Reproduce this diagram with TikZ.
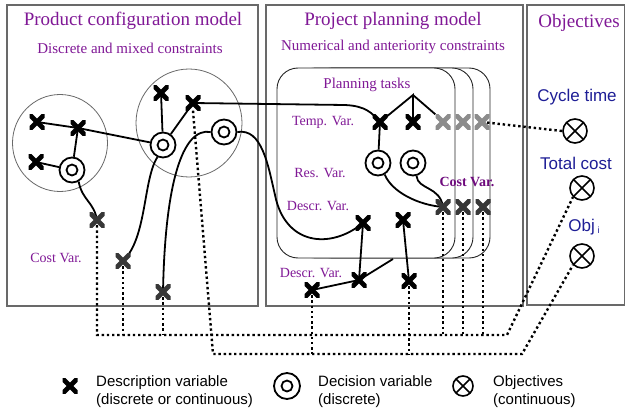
\documentclass[tikz,border=0pt]{standalone}
\usepackage{fontspec}
\setmainfont{Liberation Serif}
\newfontfamily\legfont{Liberation Sans}
\definecolor{vio}{RGB}{128,24,150}
\definecolor{vioD}{RGB}{110,10,125}
\definecolor{objblue}{RGB}{30,30,150}
\definecolor{framegray}{RGB}{105,105,105}
\definecolor{lgray}{RGB}{140,140,140}
\definecolor{dgray}{RGB}{55,55,55}
\pgfdeclarelayer{bg}
\pgfdeclarelayer{mid}
\pgfsetlayers{bg,mid,main}
\begin{document}
\begin{tikzpicture}[x=1pt,y=-1pt,
  xm/.style={minimum size=15pt, inner sep=0pt,
    path picture={\draw[line width=4.8pt, line cap=rect, #1]
      (path picture bounding box.south west) -- (path picture bounding box.north east)
      (path picture bounding box.north west) -- (path picture bounding box.south east);}},
  xm/.default=black,
  dec/.style={circle, draw, line width=1.8pt, fill=white, minimum size=25pt, inner sep=0pt,
    path picture={\draw[line width=1.8pt] (path picture bounding box.center) circle (5.5pt);}},
  obj/.style={circle, draw, line width=1.6pt, fill=white, minimum size=#1, inner sep=0pt,
    path picture={\draw[line width=1.6pt]
      (path picture bounding box.north west) -- (path picture bounding box.south east)
      (path picture bounding box.north east) -- (path picture bounding box.south west);}},
  obj/.default=24pt,
  conn/.style={line width=1.8pt, black},
  dots/.style={line width=2.4pt, dash pattern=on 2.4pt off 2.8pt, black},
  panel/.style={draw=framegray, line width=1.3pt},
  grp/.style={draw=framegray, line width=0.8pt},
  task/.style={draw=black!85, line width=0.9pt, fill=white, rounded corners=21pt},
  ttl/.style={text=vio, font=\fontsize{19}{22}\selectfont, inner sep=0pt},
  sub/.style={text=vio, font=\fontsize{15}{18}\selectfont, inner sep=0pt},
  vlab/.style={text=vio, font=\fontsize{14}{17}\selectfont, inner sep=0pt},
  olab/.style={text=objblue, font=\legfont\fontsize{17}{20}\selectfont, inner sep=0pt},
  leg/.style={font=\legfont\fontsize{15}{18}\selectfont, align=left, anchor=west, inner sep=0pt}
]
\useasboundingbox (0,0) rectangle (626,412);

% panels, groups and task cards
\begin{pgfonlayer}{bg}
  \fill[white] (0,0) rectangle (626,412);
  \draw[panel] (7,5) rectangle (258,306);
  \draw[panel] (266,5) rectangle (523,306);
  \draw[panel] (527,5) rectangle (624.5,305);
  \draw[grp] (60,143) ellipse [x radius=47.5pt, y radius=48.5pt];
  \draw[grp] (189,123) ellipse [x radius=53pt, y radius=54pt];
  \draw[task] (312,68) rectangle (490,258);
  \draw[task] (295,68) rectangle (473,258);
  \draw[task] (277,68) rectangle (455,258);
\end{pgfonlayer}

% titles
\node[ttl] (ttlA) at (133,21) {Product configuration model};
\node[sub] (subA) at (130,48) {Discrete and mixed constraints};
\node[ttl] (ttlB) at (393,21) {Project planning model};
\node[sub] (subB) at (393,47) {Numerical and anteriority constraints};
\node[ttl] (ttlC) at (579,23) {Objectives};

% product configuration variables
\node[xm] (a1) at (37,122) {};
\node[xm] (a2) at (78,128) {};
\node[xm] (a3) at (36,162) {};
\node[dec] (d1) at (72,170) {};
\node[xm] (b1) at (161,93) {};
\node[xm] (b2) at (193,103) {};
\node[dec] (e1) at (163,145) {};
\node[dec] (e2) at (224,132) {};
\node[xm=dgray] (c1) at (97,220) {};
\node[xm=dgray] (c2) at (123,261) {};
\node[xm=dgray] (c3) at (163,292) {};
\node[vlab] (lcost) at (56,258) {Cost Var.};

% project planning variables
\node[vlab, font=\fontsize{15}{18}\selectfont] (lplan) at (367,85) {Planning tasks};
\node[vlab] (ltemp) at (323,122) {Temp. Var.};
\node[vlab] (lres) at (320,173) {Res. Var.};
\node[vlab] (ldesA) at (318,206) {Descr. Var.};
\node[vlab] (ldesB) at (311,273) {Descr. Var.};
\node[vlab, text=vioD, font=\bfseries\fontsize{14}{17}\selectfont] (lcostB) at (467,182) {Cost Var.};
\coordinate (apex) at (413,95);
\coordinate (pe) at (393,259);
\node[xm] (t1) at (380,122) {};
\node[xm] (t2) at (413,122) {};
\node[xm=lgray] (g1) at (443,122) {};
\node[xm=lgray] (g2) at (463,122) {};
\node[xm=lgray] (g3) at (482,122) {};
\node[dec] (r1) at (378,163) {};
\node[dec] (r2) at (413,163) {};
\node[xm=dgray] (k1) at (443,207) {};
\node[xm=dgray] (k2) at (463,207) {};
\node[xm=dgray] (k3) at (483,207) {};
\node[xm] (p1) at (363,223) {};
\node[xm] (p2) at (359,280) {};
\node[xm] (p3) at (312,290) {};
\node[xm] (q1) at (403,220) {};
\node[xm] (q2) at (409,281) {};

% objectives
\node[olab] (lct) at (577,97) {Cycle time};
\node[olab] (ltc) at (576,163) {Total cost};
\node[olab] (loi) at (584,227) {Obj\,{\fontsize{9}{9}\selectfont\raisebox{-2pt}{i}}};
\node[obj] (ct) at (575,131) {};
\node[obj] (tc) at (582,188) {};
\node[obj] (oi) at (582,256) {};

% legend
\node[xm] (kx) at (70,386) {};
\node[leg] (tx) at (96,392) {Description variable\\(discrete or continuous)};
\node[dec, fill=none, minimum size=26pt] (kd) at (287,386) {};
\node[leg] (td) at (318,392) {Decision variable\\(discrete)};
\node[obj=20pt] (ko) at (463,386) {};
\node[leg] (to) at (493,392) {Objectives\\(continuous)};

% constraints and links
\begin{pgfonlayer}{mid}
  \draw[conn] (a1.center) -- (a2.center) -- (e1);
  \draw[conn] (a2.center) -- (d1);
  \draw[conn] (a3.center) -- (d1);
  \draw[conn] (d1.-60) .. controls (82,200) and (94,202) .. (c1.center);
  \draw[conn] (e1) -- (b1.center);
  \draw[conn] (e1) -- (b2.center);
  \draw[conn] (b2.center) -- (345,105) .. controls (366,106) and (372,113) .. (t1.center);
  \draw[conn] (e1.-115) .. controls (143,180) and (147,238) .. (c2.center);
  \draw[conn] (e2.west) .. controls (182,127) and (165,185) .. (c3.center);
  \draw[conn] (e2.east) .. controls (262,128) and (268,165) .. (275,195)
              .. controls (285,245) and (330,250) .. (p1.center);
  \draw[conn] (t1.center) -- (apex) -- (t2.center);
  \draw[conn] (apex) -- (g1.north west);
  \draw[conn] (t1.center) -- (r1);
  \draw[conn] (r1.-60) .. controls (392,192) and (418,205) .. (k1.center);
  \draw[conn] (r2.-75) .. controls (418,190) and (440,186) .. (k1.center);
  \draw[conn] (p1.center) -- (p2.center);
  \draw[conn] (p3.center) -- (p2.center) -- (pe);
  \draw[conn] (q1.center) -- (q2.center);

  \draw[dots] (g3.center) -- (ct.west);
  \draw[dots] (b2.south) -- (213,354) -- (522,354) -- (oi.225);
  \draw[dots] (c1.center) -- (97,335) -- (507,335) -- (tc.225);
  \draw[dots] (c2.center) -- (123,335);
  \draw[dots] (c3.center) -- (163,335);
  \draw[dots] (k1.center) -- (443,335);
  \draw[dots] (k2.center) -- (463,335);
  \draw[dots] (k3.center) -- (483,335);
  \draw[dots] (p3.center) -- (312,354);
  \draw[dots] (q2.center) -- (409,354);
\end{pgfonlayer}
\end{tikzpicture}
\end{document}
